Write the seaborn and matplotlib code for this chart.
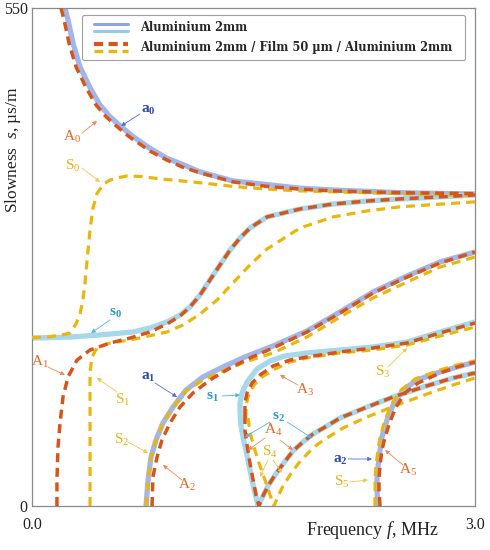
import matplotlib
matplotlib.use("Agg")
import matplotlib.pyplot as plt
import seaborn as sns
import pandas as pd
from matplotlib.legend_handler import HandlerBase
from matplotlib.lines import Line2D

# ---------------- data (frequency f in MHz, slowness s in us/m) ----------------
a0_f = [0.223, 0.244, 0.278, 0.325, 0.393, 0.460, 0.528, 0.596, 0.684, 0.799, 0.914, 1.023, 1.138, 1.361, 1.591, 1.815, 2.038, 2.492, 3.0]
a0_s = [550, 537, 511, 485, 462, 443, 430, 420, 408, 395, 384, 377, 369, 359, 355, 351, 349, 346, 344.5]

s0_f = [0, 0.257, 0.460, 0.684, 0.799, 0.914, 1.002, 1.070, 1.138, 1.205, 1.273, 1.341, 1.409, 1.476, 1.591, 1.815, 2.038, 2.269, 2.492, 3.0]
s0_s = [185.5, 186.6, 188.9, 192.2, 196.6, 203.2, 210.9, 219.8, 233.0, 249.6, 266.2, 282.7, 296.0, 307.0, 319.2, 328.0, 333.5, 336.8, 339.1, 343.5]

a1_f = [0.772, 0.786, 0.806, 0.840, 0.887, 0.955, 1.043, 1.158, 1.293, 1.442, 1.632, 1.862, 2.086, 2.309, 2.540, 2.763, 3.0]
a1_s = [0, 28.7, 54.1, 72.9, 91.7, 109.3, 128.1, 142.5, 153.5, 164.6, 176.7, 193.3, 214.3, 236.3, 254.0, 269.5, 280.5]

s1_f = [1.409, 1.409, 1.422, 1.456, 1.524, 1.612, 1.713, 1.862, 2.086, 2.309, 2.540, 2.763, 3.0]
s1_s = [102.7, 113.8, 124.8, 136.9, 151.3, 160.1, 165.7, 169.0, 172.3, 175.6, 181.1, 192.2, 203.2]

s2_f = [1.409, 1.415, 1.429, 1.456, 1.476, 1.497, 1.517, 1.530, 1.564, 1.598, 1.646, 1.700, 1.767, 1.835, 1.903, 1.998, 2.086, 2.269, 2.445, 2.648, 2.851, 3.0]
s2_s = [102.7, 89.5, 76.2, 56.3, 39.8, 23.2, 9.9, 0, 11.0, 22.1, 34.2, 46.4, 60.7, 70.7, 79.5, 88.4, 97.2, 109.3, 120.4, 131.4, 141.4, 146.9]

a2_f = [2.343, 2.336, 2.336, 2.343, 2.357, 2.370, 2.404, 2.445, 2.512, 2.607, 2.763, 2.878, 3.0]
a2_s = [0, 17.7, 28.7, 43.1, 61.8, 76.2, 95.0, 111.5, 128.1, 139.2, 148.0, 153.5, 159.0]

A0_f = [0.196, 0.217, 0.251, 0.298, 0.366, 0.433, 0.501, 0.569, 0.657, 0.799, 0.914, 1.023, 1.138, 1.361, 1.591, 1.815, 2.038, 2.492, 3.0]
A0_s = [550, 537, 511, 485, 462, 443, 430, 420, 408, 392, 382, 374, 368, 358, 353, 350, 348, 346, 345]

S0_f = [0, 0.122, 0.203, 0.257, 0.298, 0.325, 0.345, 0.359, 0.372, 0.393, 0.413, 0.440, 0.481, 0.528, 0.596, 0.643, 0.731, 0.887, 1.138, 1.361, 1.591, 1.815, 2.038, 2.492, 3.0]
S0_s = [186, 187, 189, 191, 201, 212, 228, 246, 270, 305, 329, 345, 355, 360, 363, 364.5, 364, 361, 357, 353, 350, 348, 347, 345, 343]

A1_f = [0.169, 0.169, 0.176, 0.190, 0.210, 0.244, 0.305, 0.393, 0.528, 0.664, 0.799, 0.914, 1.002, 1.070, 1.138, 1.205, 1.273, 1.341, 1.409, 1.476, 1.591, 1.815, 2.038, 2.269, 2.492, 3.0]
A1_s = [0, 28.7, 65.2, 91.7, 120.4, 142.5, 161.2, 172.3, 180.0, 185.5, 192.2, 201.0, 209.8, 219.8, 233.0, 249.6, 266.2, 282.7, 296.0, 307.0, 319.2, 328.0, 333.5, 336.8, 339.1, 343.5]

S1_f = [0.393, 0.393, 0.393, 0.393, 0.406, 0.440, 0.528, 0.664, 0.914, 1.023, 1.138, 1.253, 1.361, 1.476, 1.591, 1.815, 2.038, 2.269, 2.492, 3.0]
S1_s = [0, 61.8, 117.1, 146.9, 164.6, 174.5, 180.0, 183.3, 192.2, 199.9, 212.0, 227.5, 246.3, 266.2, 283.8, 307.0, 319.2, 325.9, 330.4, 335.9]

A2_f = [0.813, 0.819, 0.847, 0.880, 0.935, 1.002, 1.090, 1.205, 1.341, 1.476, 1.632, 1.862, 2.086, 2.309, 2.540, 2.763, 3.0]
A2_s = [0, 32.0, 54.1, 72.9, 91.7, 109.3, 124.8, 139.2, 152.4, 163.5, 174.5, 192.2, 213.2, 235.2, 252.9, 268.4, 280.5]

S2_f = [0.772, 0.786, 0.806, 0.840, 0.887, 0.955, 1.043, 1.158, 1.293, 1.442, 1.632, 1.862, 2.086, 2.309, 2.540, 2.763, 3.0]
S2_s = [0, 28.7, 54.1, 72.9, 91.7, 109.3, 127.0, 139.2, 149.1, 159.0, 169.0, 186.6, 208.7, 229.7, 247.4, 263.9, 275.0]

A3_f = [1.442, 1.442, 1.456, 1.490, 1.544, 1.632, 1.747, 1.862, 2.086, 2.309, 2.540, 2.763, 3.0]
A3_s = [100.5, 113.8, 124.8, 135.8, 144.7, 154.6, 161.2, 164.6, 170.1, 174.5, 180.0, 191.1, 202.1]

S3_f = [1.449, 1.449, 1.470, 1.503, 1.558, 1.646, 1.747, 1.862, 2.086, 2.309, 2.540, 2.763, 3.0]
S3_s = [97.2, 111.5, 123.7, 133.6, 142.5, 151.3, 159.0, 163.5, 169.0, 172.3, 177.8, 187.7, 197.7]

A4_f = [1.442, 1.442, 1.456, 1.476, 1.497, 1.517, 1.537, 1.564, 1.598, 1.646, 1.700, 1.767, 1.835, 1.903, 1.998, 2.086, 2.269, 2.445, 2.648, 2.851, 3.0]
A4_s = [100.5, 83.9, 67.4, 47.5, 28.7, 12.1, 0, 11.0, 22.1, 34.2, 46.4, 60.7, 70.7, 79.5, 88.4, 97.2, 109.3, 120.4, 131.4, 141.4, 146.9]

S4_f = [1.463, 1.476, 1.503, 1.537, 1.578, 1.612, 1.639, 1.666, 1.700, 1.747, 1.801, 1.869, 1.937, 2.018, 2.106, 2.269, 2.472, 2.675, 2.851, 3.0]
S4_s = [97.2, 81.7, 65.2, 47.5, 28.7, 12.1, 0, 11.0, 22.1, 34.2, 46.4, 58.5, 68.5, 77.3, 86.1, 98.3, 111.5, 123.7, 133.6, 141.4]

A5_f = [2.357, 2.350, 2.350, 2.357, 2.370, 2.391, 2.424, 2.465, 2.526, 2.614, 2.763, 2.878, 3.0]
A5_s = [0, 17.7, 30.9, 45.3, 61.8, 76.2, 92.8, 109.3, 124.8, 135.8, 146.9, 153.5, 159.0]

S5_f = [2.323, 2.323, 2.323, 2.330, 2.343, 2.357, 2.391, 2.431, 2.499, 2.594, 2.763, 2.878, 3.0]
S5_s = [0, 17.7, 30.9, 45.3, 61.8, 76.2, 95.0, 111.5, 128.1, 140.3, 150.2, 155.7, 160.1]

legend_labels = ["Aluminium 2mm", "Aluminium 2mm / Film 50 \u00b5m / Aluminium 2mm"]
x_ticks = [0, 0.5, 1.0, 1.5, 2.0, 2.5, 3.0]
x_ticklabels = ["0.0", "", "", "", "", "", "3.0"]
y_ticks = [0, 100, 200, 300, 400, 500, 550]
y_ticklabels = ["0", "", "", "", "", "", "550"]

# mode labels: (kind, name, index, text position, [(arrow start, arrow tip), ...])
mode_labels = [
    ("a", "a", "0", (0.786, 437.3), [((0.731, 432.9), (0.603, 419.7))]),
    ("A", "A", "0", (0.271, 407.5), [((0.339, 411.9), (0.440, 425.2))]),
    ("S", "S", "0", (0.278, 375.5), [((0.339, 373.3), (0.460, 357.8))]),
    ("s", "s", "0", (0.562, 213.2), [((0.528, 205.4), (0.400, 191.1))]),
    ("A", "A", "1", (0.054, 159.0), [((0.108, 153.5), (0.223, 144.7))]),
    ("S", "S", "1", (0.616, 117.1), [((0.576, 125.9), (0.440, 141.4))]),
    ("a", "a", "1", (0.786, 142.5), [((0.833, 135.8), (0.982, 120.4))]),
    ("S", "S", "2", (0.609, 72.9), [((0.650, 70.7), (0.786, 58.5))]),
    ("A", "A", "2", (1.050, 23.2), [((1.016, 28.7), (0.887, 45.3))]),
    ("s", "s", "1", (1.219, 120.4), [((1.287, 121.5), (1.409, 122.6))]),
    ("A", "A", "3", (1.849, 128.1), [((1.801, 133.6), (1.679, 144.7))]),
    ("s", "s", "2", (1.666, 98.3), [((1.612, 92.8), (1.442, 76.2)), ((1.727, 92.8), (1.896, 75.1))]),
    ("A", "A", "4", (1.632, 83.9), [((1.578, 75.1), (1.463, 61.8)), ((1.679, 72.9), (1.767, 61.8))]),
    ("S", "S", "4", (1.612, 59.6), [((1.598, 50.8), (1.544, 32.0)), ((1.632, 50.8), (1.693, 36.4))]),
    ("a", "a", "2", (2.086, 50.8), [((2.140, 51.9), (2.302, 51.9))]),
    ("S", "S", "5", (2.099, 26.5), [((2.153, 26.5), (2.275, 28.7))]),
    ("A", "A", "5", (2.546, 39.8), [((2.512, 45.3), (2.391, 61.8))]),
    ("S", "S", "3", (2.377, 148.0), [((2.411, 153.5), (2.540, 174.5))]),
]

# ---------------- style ----------------
sns.set_theme(style="white")
plt.rcParams["font.family"] = ["Liberation Serif", "DejaVu Serif"]
plt.rcParams["mathtext.fontset"] = "custom"
plt.rcParams["mathtext.rm"] = "Liberation Serif"
plt.rcParams["mathtext.it"] = "Liberation Serif:italic"
plt.rcParams["mathtext.bf"] = "Liberation Serif:bold"

C_a = "#a4b5e9"
C_s = "#a6d7ea"
C_A = "#d4561c"
C_S = "#e8b70f"
TXT = {"a": "#2a48a8", "s": "#2a9bd0", "A": "#e0692c", "S": "#e0b41c"}
ARR = {"a": "#5470c4", "s": "#58b4dc", "A": "#ec8a5a", "S": "#ecc850"}

fig = plt.figure(figsize=(4.9, 5.5), dpi=100)
ax = fig.add_axes([32 / 490, 44 / 550, 443 / 490, 498 / 550])

def draw(f, s, color, lw, dashed, z):
    df = pd.DataFrame({"f": f, "s": s})
    kw = dict(x="f", y="s", data=df, sort=False, estimator=None, ax=ax,
              color=color, linewidth=lw, legend=False, zorder=z)
    if dashed:
        kw["linestyle"] = (0, dashed)
        kw["dash_capstyle"] = "butt"
    else:
        kw["solid_capstyle"] = "butt"
    sns.lineplot(**kw)

for f, s in [(a0_f, a0_s), (a1_f, a1_s), (a2_f, a2_s)]:
    draw(f, s, C_a, 3.8, None, 2)
for f, s in [(s0_f, s0_s), (s1_f, s1_s), (s2_f, s2_s)]:
    draw(f, s, C_s, 3.8, None, 2)
for f, s in [(S0_f, S0_s), (S1_f, S1_s), (S2_f, S2_s), (S3_f, S3_s), (S4_f, S4_s), (S5_f, S5_s)]:
    draw(f, s, C_S, 2.3, (2.8, 1.9), 3)
for f, s in [(A0_f, A0_s), (A1_f, A1_s), (A2_f, A2_s), (A3_f, A3_s), (A4_f, A4_s), (A5_f, A5_s)]:
    draw(f, s, C_A, 2.5, (2.6, 1.6), 4)

ax.set_xlim(0, 3.0)
ax.set_ylim(0, 550)
ax.set_xticks(x_ticks)
ax.set_xticklabels(x_ticklabels)
ax.set_yticks(y_ticks)
ax.set_yticklabels(y_ticklabels)
ax.tick_params(direction="in", length=4, width=0.8, color="#777777",
               labelsize=11.5, labelcolor="#222222", pad=3)
ax.tick_params(axis="x", pad=8)
for sp in ax.spines.values():
    sp.set_color("#8a8a8a")
    sp.set_linewidth(0.9)
ax.set_xlabel("")
ax.set_ylabel("")

fig.text(372 / 490, 1 - 530 / 550, "Frequency $f$, MHz", ha="center", va="center",
         fontsize=13, color="#222222")
fig.text(13 / 490, 1 - 150 / 550, "Slowness  $s$, \u00b5s/m", ha="center", va="center",
         rotation=90, fontsize=12.5, color="#222222")

for kind, name, idx, tpos, arrows in mode_labels:
    if kind in ("a", "s"):
        lab = r"$\mathbf{%s}_{\mathbf{%s}}$" % (name, idx)
    else:
        lab = r"$\mathrm{%s}_{\mathrm{%s}}$" % (name, idx)
    ax.text(tpos[0], tpos[1], lab, color=TXT[kind], fontsize=11, ha="center", va="center", zorder=6)
    for st, tip in arrows:
        ax.annotate("", xy=tip, xytext=st,
                    arrowprops=dict(arrowstyle="-|>", color=ARR[kind], lw=0.6,
                                    shrinkA=0, shrinkB=0, mutation_scale=6), zorder=6)

# ---------------- legend with stacked pairs of lines ----------------
class PairHandler(HandlerBase):
    def create_artists(self, legend, orig_handle, xdescent, ydescent, width, height, fontsize, trans):
        arts = []
        offs = [0.8, 0.12]
        for i, h in enumerate(orig_handle):
            y = height * offs[i] - ydescent
            ln = Line2D([-xdescent + 4, -xdescent + width], [y, y])
            ln.update_from(h)
            ln.set_transform(trans)
            arts.append(ln)
        return arts

h1 = (Line2D([], [], color="#8fa3df", lw=2.2), Line2D([], [], color="#8fcde3", lw=2.2))
h2 = (Line2D([], [], color=C_A, lw=3.0, linestyle=(0, (2.2, 1.3))),
      Line2D([], [], color=C_S, lw=2.4, linestyle=(0, (2.6, 1.6))))
leg = ax.legend([h1, h2], legend_labels, handler_map={tuple: PairHandler()},
                loc="upper left", bbox_to_anchor=(50 / 443, 1 - 7 / 498, 383 / 443, 0.0),
                mode="expand", borderaxespad=0, fancybox=True, framealpha=1,
                edgecolor="#a0a0a0", handlelength=3.4, handleheight=1.0, handletextpad=1.1,
                labelspacing=0.55, borderpad=0.55,
                prop={"family": "DejaVu Serif", "weight": "bold", "size": 8.3})
leg.get_frame().set_linewidth(0.8)
leg.set_zorder(10)

fig.savefig("out.png", dpi=100)
